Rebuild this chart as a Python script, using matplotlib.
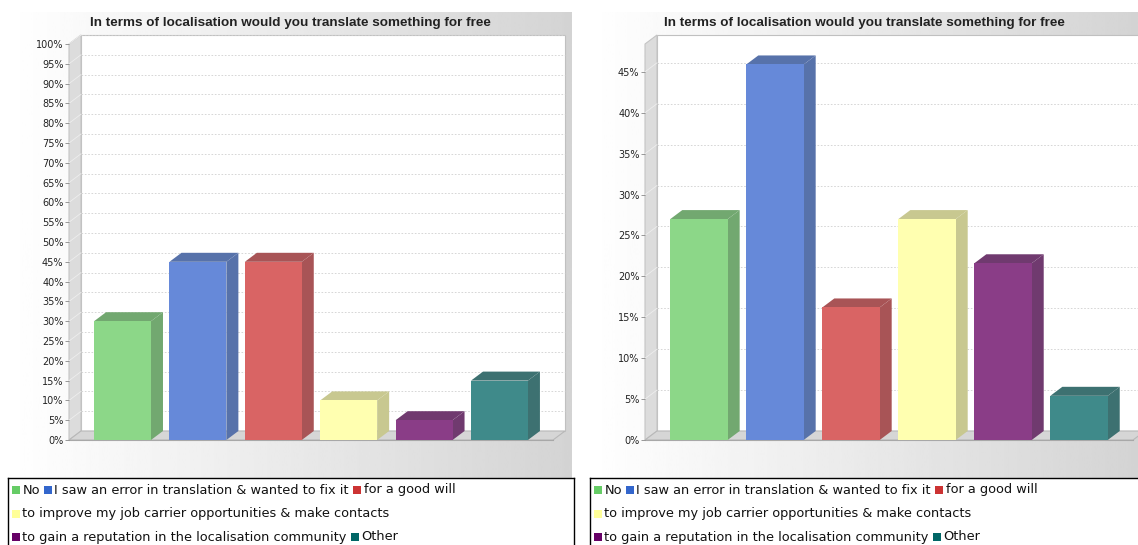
import numpy as np
import matplotlib
matplotlib.use("Agg")
import matplotlib.pyplot as plt
from matplotlib.patches import Polygon, Rectangle

# ===== DATA =====
title = "In terms of localisation would you translate something for free"
categories = ["No", "I saw an error in translation & wanted to fix it", "for a good will",
              "to improve my job carrier opportunities & make contacts",
              "to gain a reputation in the localisation community", "Other"]
left_values = [30, 45, 45, 10, 5, 15]
right_values = [27.0, 45.9, 16.2, 27.0, 21.6, 5.4]
left_ticks = list(range(0, 101, 5))
right_ticks = list(range(0, 46, 5))

# ===== STYLE =====
W, H = 1138, 545
face_cols = ["#8cd788", "#6689d9", "#d96464", "#ffffb0", "#8a3d87", "#3f8a8a"]
side_cols = ["#72a870", "#5772aa", "#a85456", "#c8c890", "#703a6f", "#3d7171"]
legend_cols = ["#66cc66", "#3366cc", "#cc3333", "#ffff99", "#660066", "#006666"]
DX, DY = 12, 9  # 3d depth in pixels
legend_rows = [[0, 1, 2], [3], [4, 5]]

fig = plt.figure(figsize=(W / 100, H / 100), dpi=100)
fig.patch.set_facecolor("white")


def px_axes(x0, y0, x1, y1, **kw):
    return fig.add_axes([x0 / W, 1 - y1 / H, (x1 - x0) / W, (y1 - y0) / H], **kw)


def draw_panel(px0, px1, front_x0, front_x1, ymax, values, ticks):
    # gradient background of the chart
    bg = px_axes(px0, 12, px1, 478)
    grad = np.linspace(1.0, 0.83, 256).reshape(1, -1)
    bg.imshow(grad, cmap="gray", vmin=0, vmax=1, aspect="auto", extent=(0, 1, 0, 1))
    bg.set_axis_off()
    bg.text(0.5, 1 - 11 / 466, title, ha="center", va="center", fontsize=9.7,
            fontweight="bold", family="Liberation Sans", color="#222222",
            transform=bg.transAxes)

    ax = px_axes(front_x0, 44, front_x1, 440)
    ax.set_zorder(2)
    ax.patch.set_alpha(0)
    n = len(values)
    pad = 0.71
    ax.set_xlim(-pad, n - 1 + pad)
    ax.set_ylim(0, ymax)
    ux = (n - 1 + 2 * pad) / (front_x1 - front_x0)
    uy = ymax / (440 - 44)
    dx, dy = DX * ux, DY * uy
    x0, x1 = ax.get_xlim()

    # back wall, left wall, floor
    ax.add_patch(Rectangle((x0 + dx, dy), x1 - x0, ymax, facecolor="white",
                           edgecolor="#c0c0c0", lw=0.8, clip_on=False, zorder=0))
    ax.add_patch(Polygon([(x0, 0), (x0 + dx, dy), (x0 + dx, ymax + dy), (x0, ymax)],
                         closed=True, facecolor="#dcdcdc", edgecolor="#c4c4c4", lw=0.8,
                         clip_on=False, zorder=0.5))
    ax.add_patch(Polygon([(x0, 0), (x1, 0), (x1 + dx, dy), (x0 + dx, dy)],
                         closed=True, facecolor="#d6d6d6", edgecolor="#b8b8b8", lw=0.8,
                         clip_on=False, zorder=0.5))
    for t in ticks:
        if t == 0:
            continue
        ax.plot([x0 + dx, x1 + dx], [t + dy, t + dy], ls=(0, (2, 2)), lw=0.6,
                color="#d0d0d0", clip_on=False, zorder=0.6)
        ax.plot([x0, x0 + dx], [t, t + dy], lw=0.6, color="#eeeeee",
                clip_on=False, zorder=0.6)

    w = 0.755
    xs = np.arange(n)
    ax.bar(xs, values, width=w, color=face_cols, edgecolor="none", zorder=3, clip_on=False)
    for x, v, sc in zip(xs, values, side_cols):
        r, l = x + w / 2, x - w / 2
        ax.add_patch(Polygon([(r, 0), (r + dx, dy), (r + dx, v + dy), (r, v)], closed=True,
                             facecolor=sc, edgecolor="none", clip_on=False, zorder=2.9))
        ax.add_patch(Polygon([(l, v), (r, v), (r + dx, v + dy), (l + dx, v + dy)], closed=True,
                             facecolor=sc, edgecolor="none", clip_on=False, zorder=2.9))

    ax.set_yticks(ticks)
    ax.set_yticklabels([f"{t}%" for t in ticks])
    ax.set_xticks([])
    for s in ax.spines.values():
        s.set_visible(False)
    ax.tick_params(axis="y", length=3, width=0.6, color="#888888", pad=1,
                   labelsize=7, labelcolor="#222222")
    ax.plot([x0, x1], [0, 0], color="#a8a8a8", lw=0.8, clip_on=False, zorder=1)

    # legend box
    lg = px_axes(px0, 478, px1 + 2, 548)
    lg.set_xlim(0, px1 + 2 - px0)
    lg.set_ylim(70, 0)
    lg.set_xticks([])
    lg.set_yticks([])
    for s in lg.spines.values():
        s.set_linewidth(1.0)
        s.set_color("black")
    renderer = fig.canvas.get_renderer()
    for row, idxs in enumerate(legend_rows):
        yc = 12 + row * 23.5
        xc = 4
        for i in idxs:
            lg.add_patch(Rectangle((xc, yc - 4), 8, 8, facecolor=legend_cols[i],
                                   edgecolor="none"))
            t = lg.text(xc + 10.5, yc, categories[i], va="center", ha="left",
                        fontsize=9.3, family="DejaVu Sans", color="#111111")
            bb = t.get_window_extent(renderer)
            xc = xc + 10.5 + bb.width + 4


draw_panel(8, 572, 69, 553, 100, left_values, left_ticks)
draw_panel(590, 1138, 645, 1133, 48.4, right_values, right_ticks)

fig.savefig("out.png", dpi=100)
